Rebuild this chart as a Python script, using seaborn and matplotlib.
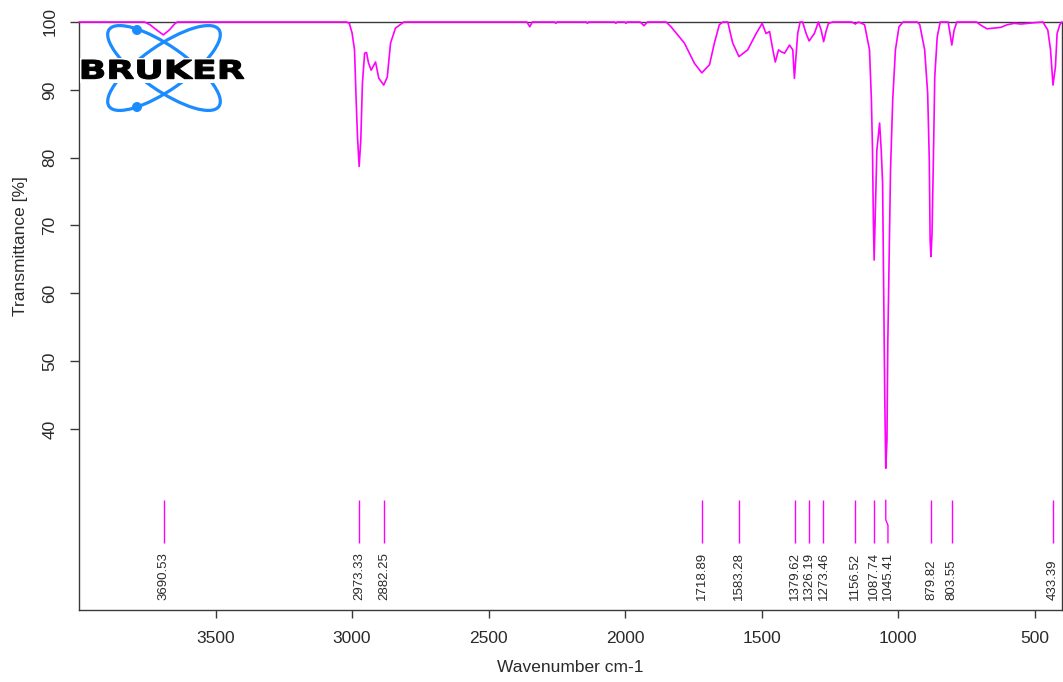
import numpy as np
import pandas as pd
import matplotlib
matplotlib.use("Agg")
import matplotlib.pyplot as plt
import seaborn as sns
from matplotlib.patches import Ellipse, Circle, Rectangle, PathPatch
from matplotlib.textpath import TextPath
from matplotlib.font_manager import FontProperties
from matplotlib.transforms import Affine2D

# ---------------- data ----------------
wavenumber = [
    4000, 3760, 3740, 3715, 3691, 3670, 3650, 3640,
    3020, 3010, 3000, 2991, 2985, 2980, 2974, 2968, 2962, 2954, 2947, 2940,
    2930, 2914, 2902, 2884, 2871, 2859, 2841, 2810,
    2360, 2349, 2340, 2258, 2254, 2250, 2142, 2138, 2134, 2038, 2034, 2030,
    2001, 1997, 1993, 1945, 1931, 1918,
    1850, 1832, 1783, 1746, 1719, 1691, 1673, 1655, 1642, 1624, 1606, 1583,
    1551, 1520, 1498, 1484, 1471, 1459, 1450, 1438, 1428, 1416, 1398, 1386,
    1380, 1368, 1359, 1350, 1337, 1326, 1307, 1292, 1282, 1273, 1263, 1255,
    1239, 1170, 1157, 1145, 1123, 1105, 1098, 1094, 1091, 1088, 1084, 1078,
    1068, 1062, 1057, 1053, 1049, 1045.4, 1041, 1038, 1032, 1028, 1020, 1010,
    997, 982, 930, 921, 903, 892, 886, 883, 880, 876, 870, 866, 857, 846,
    817, 810, 803.5, 795, 785, 713, 700, 675, 650, 625, 600, 575, 550, 525,
    500, 470, 452, 442, 433, 424, 418, 408, 400,
]
transmittance = [
    100, 100, 99.6, 98.8, 98.1, 98.8, 99.7, 100,
    100, 99.8, 98.4, 95.9, 88.5, 83.0, 78.7, 82.6, 91.0, 95.4, 95.5, 94.0,
    92.9, 94.1, 91.7, 90.7, 91.9, 96.9, 99.1, 100,
    100, 99.3, 100, 100, 99.8, 100, 100, 99.8, 100, 100, 99.8, 100,
    100, 99.8, 100, 100, 99.45, 100,
    100, 99.3, 96.9, 93.9, 92.5, 93.7, 96.9, 99.6, 100, 100, 96.9, 94.9,
    95.9, 98.3, 99.8, 98.3, 98.6, 95.9, 94.1, 95.9, 95.6, 95.4, 96.6, 95.9,
    91.7, 98.3, 100, 100, 98.3, 97.2, 98.3, 100, 98.8, 97.1, 98.8, 99.8,
    100, 100, 99.7, 100, 99.6, 95.9, 88.5, 81.1, 71.3, 64.9, 71.3, 81.1,
    85.1, 81.1, 76.2, 60.5, 44.3, 34.2, 38.4, 52.6, 67.4, 78.2, 88.5, 95.9,
    99.3, 100, 100, 99.6, 95.9, 89.5, 79.7, 67.9, 65.4, 68.8, 82.1, 91.9, 97.8, 100,
    100, 98.3, 96.6, 98.8, 100, 100, 99.6, 99.0, 99.1, 99.2, 99.6, 99.8, 99.7, 99.8,
    99.9, 100, 98.8, 95.9, 90.7, 93.4, 98.3, 99.6, 100,
]
peaks = [3690.53, 2973.33, 2882.25, 1718.89, 1583.28, 1379.62, 1326.19,
         1273.46, 1156.52, 1087.74, 1045.41, 879.82, 803.55, 433.39]
x_ticks = [3500, 3000, 2500, 2000, 1500, 1000, 500]
y_ticks = [40, 50, 60, 70, 80, 90, 100]
x_label = "Wavenumber cm-1"
y_label = "Transmittance [%]"

# ---------------- style ----------------
W, H, DPI = 1063, 682, 100
MAGENTA = "#ff00ff"
AXIS_C = "#3a3a3a"
TEXT_C = "#2a2a2a"
MARK_TOP, MARK_BOT, LABEL_Y = 29.5, 23.2, 14.8
LABEL_NUDGE = {1045.41: -8.0}

sns.set_theme(style="ticks")
plt.rcParams["font.family"] = ["Liberation Sans", "DejaVu Sans"]

df = pd.DataFrame({"wn": wavenumber, "T": transmittance})

fig = plt.figure(figsize=(W / DPI, H / DPI), dpi=DPI)
fig.patch.set_facecolor("white")
ax = fig.add_axes([79 / W, (H - 610) / H, (1062 - 79) / W, (610 - 22) / H])
ax.set_facecolor("white")

sns.lineplot(data=df, x="wn", y="T", sort=False, estimator=None,
             color=MAGENTA, lw=1.2, ax=ax, clip_on=False)
for ln in ax.lines:
    ln.set_zorder(6)
    ln.set_clip_on(False)

ax.set_xlim(4000, 400)
ax.set_ylim(13.3, 100)
ax.set_xticks(x_ticks)
ax.set_yticks(y_ticks)
ax.set_xticklabels([str(v) for v in x_ticks])
ax.set_yticklabels([str(v) for v in y_ticks])

for s in ax.spines.values():
    s.set_color(AXIS_C)
    s.set_linewidth(1.0)
    s.set_visible(True)
    s.set_zorder(1)

ax.tick_params(axis="x", length=6, width=1, color=AXIS_C, pad=9,
               labelsize=12.5, labelcolor=TEXT_C)
ax.tick_params(axis="y", length=6.5, width=1, color=AXIS_C, pad=9,
               labelsize=12.5, labelcolor=TEXT_C, labelrotation=90)
for lbl in ax.get_yticklabels():
    lbl.set_va("center")

ax.set_xlabel(x_label, fontsize=12.5, color=TEXT_C, labelpad=10)
ax.set_ylabel(y_label, fontsize=12.5, color=TEXT_C)
ax.yaxis.set_label_coords(-0.052, (610 - 246) / 588)
ax.grid(False)

# peak markers and labels
for p in peaks:
    nudge = LABEL_NUDGE.get(p, 0.0)
    if nudge:
        ax.plot([p, p, p + nudge, p + nudge],
                [MARK_TOP, 26.6, 25.8, MARK_BOT], color=MAGENTA, lw=1)
    else:
        ax.vlines(p, MARK_BOT, MARK_TOP, color=MAGENTA, lw=1)
    ax.text(p + nudge, LABEL_Y, f"{p:.2f}", rotation=90, ha="center",
            va="bottom", fontsize=9.5, color=TEXT_C)

# ---------------- Bruker logo ----------------
lx0, lx1, ly0, ly1 = 78, 248, 20, 116
lax = fig.add_axes([lx0 / W, (H - ly1) / H, (lx1 - lx0) / W, (ly1 - ly0) / H])
lax.set_xlim(lx0, lx1)
lax.set_ylim(H - ly1, H - ly0)
lax.axis("off")
lax.patch.set_alpha(0)
BLUE = "#1a8cff"
cx, cy = 164, H - 68
for ang in (35, -35):
    lax.add_patch(Ellipse((cx, cy), 134, 44, angle=ang, fill=False,
                          ec=BLUE, lw=2.3))
lax.add_patch(Circle((137, H - 30), 4.3, color=BLUE))
lax.add_patch(Circle((137, H - 107), 4.3, color=BLUE))
lax.add_patch(Rectangle((80, H - 83), 166, 25, color="white", lw=0))
tp = TextPath((0, 0), "BRUKER", size=20,
              prop=FontProperties(family="DejaVu Sans", weight="bold"))
ext = tp.get_extents()
sx = (244 - 82) / ext.width
sy = (79 - 60) / ext.height
tr = Affine2D().translate(-ext.x0, -ext.y0).scale(sx, sy).translate(82, H - 79)
lax.add_patch(PathPatch(tr.transform_path(tp), fc="black", ec="black", lw=0.8))

fig.savefig("out.png", dpi=DPI, facecolor="white")
